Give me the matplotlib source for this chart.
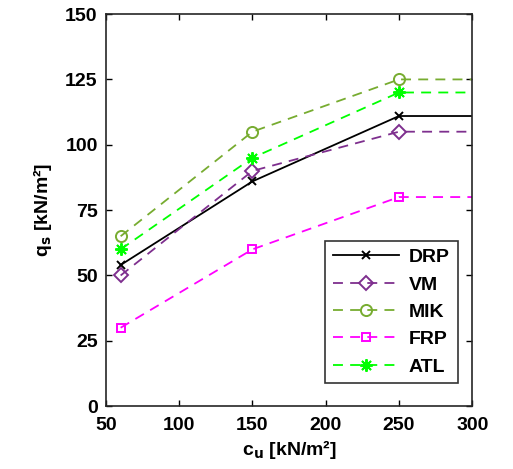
import matplotlib
matplotlib.use("Agg")
import matplotlib.pyplot as plt

plt.rcParams['font.family'] = ['Liberation Sans', 'DejaVu Sans']
plt.rcParams['font.weight'] = 'bold'

cu = [60, 150, 250, 300]
drp = [54, 86, 111, 111]
vm = [50, 90, 105, 105]
mik = [65, 105, 125, 125]
frp = [30, 60, 80, 80]
atl = [60, 95, 120, 120]

series = [
    ("DRP", drp, '#000000', '-', 'x'),
    ("VM", vm, '#7E2F8E', '--', 'D'),
    ("MIK", mik, '#77AC30', '--', 'o'),
    ("FRP", frp, '#FF00FF', '--', 's'),
    ("ATL", atl, '#00FF00', '--', (8, 2, 0)),
]

fig = plt.figure(figsize=(5.13, 4.69), dpi=100)
ax = fig.add_axes([0.2066, 0.134, 0.714, 0.836])

for name, y, c, ls, m in series:
    filled = m == 'x' or isinstance(m, tuple)
    ms = {'x': 6, 'D': 7, 'o': 8, 's': 6}.get(m, 8) if not isinstance(m, tuple) else 9
    ax.plot(cu, y, color=c, linestyle=ls, marker=m, markevery=[0, 1, 2],
            markersize=ms, markerfacecolor=c if filled else 'none',
            markeredgewidth=1.4, linewidth=1.3, label=name,
            dashes=(5.5, 4) if ls == '--' else (None, None))

ax.set_xlim(50, 300)
ax.set_ylim(0, 150)
ax.set_xticks([50, 100, 150, 200, 250, 300])
ax.set_yticks([0, 25, 50, 75, 100, 125, 150])
ax.tick_params(direction='in', top=True, right=True, labelsize=14, length=4, width=1)
ax.tick_params(axis='x', pad=8)
ax.tick_params(axis='y', pad=6)
for s in ax.spines.values():
    s.set_linewidth(1.2)
    s.set_color('#262626')
for lab in ax.get_xticklabels() + ax.get_yticklabels():
    lab.set_fontweight('bold')

ax.set_xlabel('c$_\\mathbf{u}$ [kN/m²]', fontsize=14, fontweight='bold', labelpad=3)
ax.set_ylabel('q$_\\mathbf{s}$ [kN/m²]', fontsize=14, fontweight='bold', labelpad=8)

leg = ax.legend(loc='lower right', fontsize=14, handlelength=3.4, frameon=True,
                fancybox=False, edgecolor='black', borderpad=0.4, labelspacing=0.5,
                handletextpad=0.5, borderaxespad=0, bbox_to_anchor=(0.96, 0.058))
leg.get_frame().set_linewidth(1.2)
for t in leg.get_texts():
    t.set_fontweight('bold')

fig.savefig('out.png', dpi=100)
